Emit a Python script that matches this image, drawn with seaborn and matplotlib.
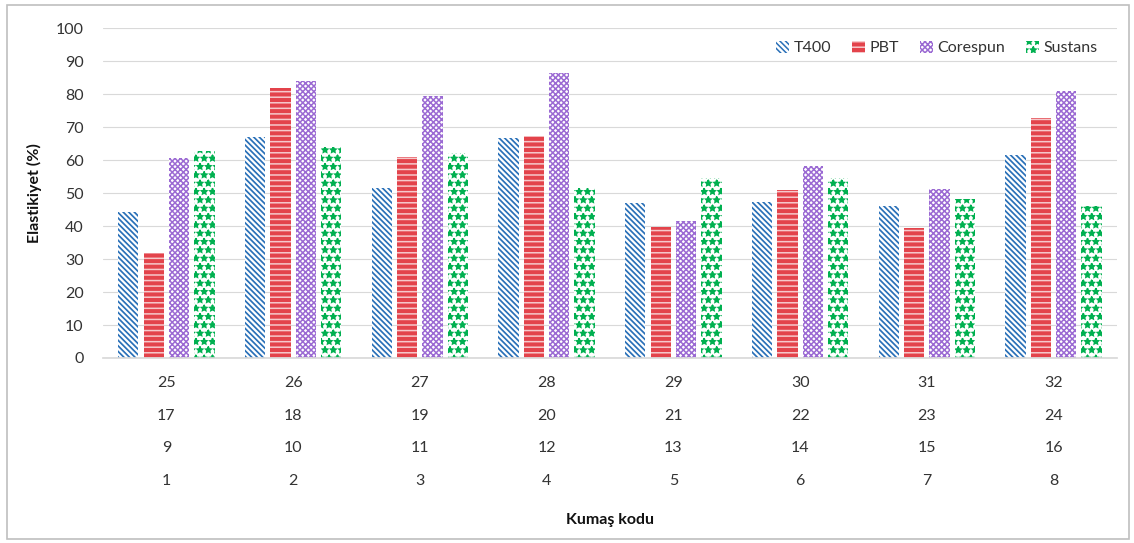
import numpy as np
import pandas as pd
import matplotlib
matplotlib.use("Agg")
import matplotlib.pyplot as plt
from matplotlib.patches import Rectangle
from matplotlib.transforms import blended_transform_factory
import seaborn as sns

# Fabric codes, four rows of labels per group (top row first)
codes_row1 = ["25", "26", "27", "28", "29", "30", "31", "32"]
codes_row2 = ["17", "18", "19", "20", "21", "22", "23", "24"]
codes_row3 = ["9", "10", "11", "12", "13", "14", "15", "16"]
codes_row4 = ["1", "2", "3", "4", "5", "6", "7", "8"]

yarns = ["T400", "PBT", "Corespun", "Sustans"]

# Elasticity (%) per yarn type
t400 = [44.3, 67.1, 51.4, 66.6, 46.9, 47.4, 46.2, 61.5]
pbt = [31.7, 81.7, 61.0, 67.4, 39.8, 50.9, 39.3, 72.6]
corespun = [60.5, 84.0, 79.5, 86.3, 41.5, 58.2, 51.1, 81.0]
sustans = [62.8, 64.0, 62.0, 51.4, 54.4, 54.4, 48.1, 46.2]

series = [t400, pbt, corespun, sustans]
group_keys = [f"{a}/{b}/{c}/{d}" for a, b, c, d in zip(codes_row1, codes_row2, codes_row3, codes_row4)]

df = pd.DataFrame({
    "group": np.tile(group_keys, len(yarns)),
    "yarn": np.repeat(yarns, len(group_keys)),
    "value": np.concatenate(series),
})

sns.set_theme(style="white")
plt.rcParams["font.family"] = ["Lato", "DejaVu Sans"]
plt.rcParams["hatch.linewidth"] = 1.1

fig = plt.figure(figsize=(11.34, 5.43), dpi=100)
ax = fig.add_axes([0.0908, 0.3407, 0.8942, 0.6077])

sns.barplot(data=df, x="group", y="value", hue="yarn", order=group_keys,
            hue_order=yarns, width=0.8, gap=0.2, legend=False, ax=ax,
            errorbar=None)

# Pattern fills per yarn type
styles = [
    dict(face="white", edge="#2A70B8", hatch="\\" * 6, hlw=1.25),
    dict(face="#E3434B", edge="#F6C9CB", hatch="---", hlw=1.1),
    dict(face="white", edge="#9B6AD3", hatch="xxxxxx", hlw=1.1),
    dict(face="white", edge="#00B050", hatch="**", hlw=1.1),
]
for cont, st in zip(ax.containers, styles):
    for p in cont.patches:
        p.set_facecolor(st["face"])
        p.set_edgecolor(st["edge"])
        p.set_hatch(st["hatch"])
        p.set_linewidth(0)
        if hasattr(p, "set_hatch_linewidth"):
            p.set_hatch_linewidth(st["hlw"])

ax.set_ylim(0, 100)
ax.set_xlim(-0.5, len(group_keys) - 0.5)
ax.set_yticks(np.arange(0, 101, 10))
ax.yaxis.grid(True, color="#D9D9D9", linewidth=0.8)
ax.set_axisbelow(True)
for side in ["top", "right", "left"]:
    ax.spines[side].set_visible(False)
ax.spines["bottom"].set_color("#D9D9D9")
ax.tick_params(axis="y", labelsize=11.5, labelcolor="#333333", length=0, pad=14)

# Multi-row category labels with separators between groups
ax.set_xticks(range(len(group_keys)))
ax.set_xticklabels([])
ax.tick_params(axis="x", which="major", length=0)
ax.set_xticks(np.arange(-0.5, len(group_keys), 1), minor=True)
ax.tick_params(axis="x", which="minor", length=100, width=0.8, color="#E3E3E3")
trans = blended_transform_factory(ax.transData, ax.transAxes)
row_y = [-0.0757, -0.1757, -0.2727, -0.3727]
for rows, yy in zip([codes_row1, codes_row2, codes_row3, codes_row4], row_y):
    for i, lab in enumerate(rows):
        ax.text(i, yy, lab, transform=trans, ha="center", va="center",
                fontsize=11.5, color="#333333")

ax.set_xlabel("")
ax.set_ylabel("Elastikiyet (%)", fontsize=11.5, fontweight="bold", color="#111111", labelpad=10)
fig.text(0.538, 0.042, "Kumaş kodu", ha="center", va="center",
         fontsize=11.5, fontweight="bold", color="#111111")

ax.legend(ax.containers, yarns, loc="upper right", ncol=4, frameon=False,
          fontsize=11.5, handlelength=0.8, handleheight=0.8, handletextpad=0.3,
          columnspacing=1.3, bbox_to_anchor=(0.995, 1.005), labelcolor="#333333")

# Outer chart border
fig.patches.append(Rectangle((0.006, 0.008), 0.99, 0.983, transform=fig.transFigure,
                             fill=False, edgecolor="#BFBFBF", linewidth=1.2))

fig.savefig("out.png", dpi=100)
